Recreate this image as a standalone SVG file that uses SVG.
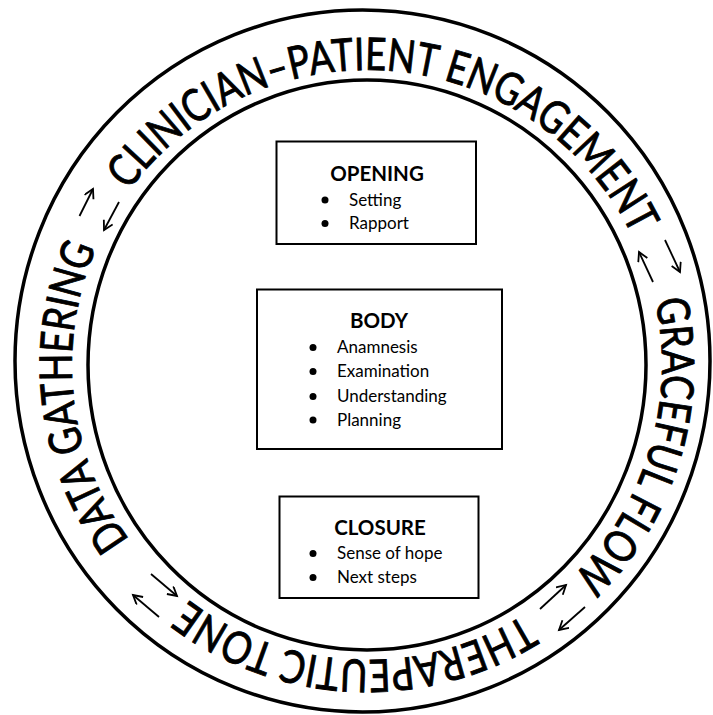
<svg xmlns="http://www.w3.org/2000/svg" xmlns:xlink="http://www.w3.org/1999/xlink" width="713" height="715" viewBox="0 0 713 715">
  <style>
    .ring { fill: none; stroke: #000; stroke-width: 3.5; }
    .box { fill: #fff; stroke: #000; stroke-width: 2; }
    .band { font-family: Lato, "Liberation Sans", sans-serif; font-size: 45px; fill: #000; stroke: #000; stroke-width: 0.9px; }
    .title { font-family: Lato, "Liberation Sans", sans-serif; font-size: 20.5px; font-weight: bold; fill: #000; text-anchor: middle; }
    .item { font-family: Lato, "Liberation Sans", sans-serif; font-size: 17px; fill: #000; }
    .bullet { fill: #000; }
    .arr { fill: none; stroke: #000; stroke-width: 1.8; marker-end: url(#head); }
  </style>
  <defs>
    <marker id="head" markerUnits="userSpaceOnUse" markerWidth="13" markerHeight="13" refX="10" refY="5.5" orient="auto">
      <path d="M1,0.5 L10,5.5 L1,10.5" fill="none" stroke="#000" stroke-width="1.8"/>
    </marker>
    <path id="band" d="M 111.52 217.5 A 295 295 0 0 1 622.48 512.5 A 295 295 0 0 1 111.52 217.5"/>
  </defs>
  <rect width="713" height="715" fill="#fff"/>

  <g id="rings">
    <ellipse class="ring" cx="362.5" cy="361" rx="347.5" ry="351"/>
    <ellipse class="ring" cx="367" cy="365" rx="279" ry="285"/>
  </g>

  <g id="band-labels">
    <text class="band"><textPath xlink:href="#band" href="#band" startOffset="335" text-anchor="middle" textLength="606" lengthAdjust="spacingAndGlyphs">CLINICIAN–PATIENT ENGAGEMENT</textPath></text>
    <text class="band"><textPath xlink:href="#band" href="#band" startOffset="857.3" text-anchor="middle" textLength="301" lengthAdjust="spacingAndGlyphs">GRACEFUL FLOW</textPath></text>
    <text class="band"><textPath xlink:href="#band" href="#band" startOffset="1248.5" text-anchor="middle" textLength="357" lengthAdjust="spacingAndGlyphs">THERAPEUTIC TONE</textPath></text>
    <text class="band"><textPath xlink:href="#band" href="#band" startOffset="1664.8" text-anchor="middle" textLength="307" lengthAdjust="spacingAndGlyphs">DATA GATHERING</textPath></text>
  </g>

  <g id="connectors">
    <line class="arr" x1="79.5" y1="216" x2="93" y2="189"/>
    <line class="arr" x1="119" y1="202" x2="104" y2="230"/>
    <line class="arr" x1="665" y1="240" x2="680" y2="272"/>
    <line class="arr" x1="653" y1="282" x2="639" y2="252"/>
    <line class="arr" x1="540" y1="609" x2="566" y2="585"/>
    <line class="arr" x1="585" y1="607" x2="559" y2="630"/>
    <line class="arr" x1="151" y1="574" x2="177" y2="596"/>
    <line class="arr" x1="159" y1="617" x2="133" y2="595"/>
  </g>

  <g id="opening">
    <rect class="box" x="276.5" y="141.5" width="199.5" height="102.5"/>
    <text class="title" x="377" y="181">OPENING</text>
    <circle class="bullet" cx="325" cy="200" r="3.5"/>
    <text class="item" x="349" y="205.5">Setting</text>
    <circle class="bullet" cx="325" cy="223.5" r="3.5"/>
    <text class="item" x="349" y="228.5">Rapport</text>
  </g>

  <g id="body">
    <rect class="box" x="257" y="289.5" width="245" height="159.5"/>
    <text class="title" x="379" y="328">BODY</text>
    <circle class="bullet" cx="313" cy="347.5" r="3.5"/>
    <text class="item" x="337" y="353">Anamnesis</text>
    <circle class="bullet" cx="313" cy="371.5" r="3.5"/>
    <text class="item" x="337" y="377">Examination</text>
    <circle class="bullet" cx="313" cy="396.5" r="3.5"/>
    <text class="item" x="337" y="402">Understanding</text>
    <circle class="bullet" cx="313" cy="420" r="3.5"/>
    <text class="item" x="337" y="425.5">Planning</text>
  </g>

  <g id="closure">
    <rect class="box" x="279.5" y="496.5" width="199" height="101.5"/>
    <text class="title" x="380" y="534.5">CLOSURE</text>
    <circle class="bullet" cx="313" cy="553.5" r="3.5"/>
    <text class="item" x="337" y="558.5">Sense of hope</text>
    <circle class="bullet" cx="313" cy="577.5" r="3.5"/>
    <text class="item" x="337" y="583">Next steps</text>
  </g>
</svg>
